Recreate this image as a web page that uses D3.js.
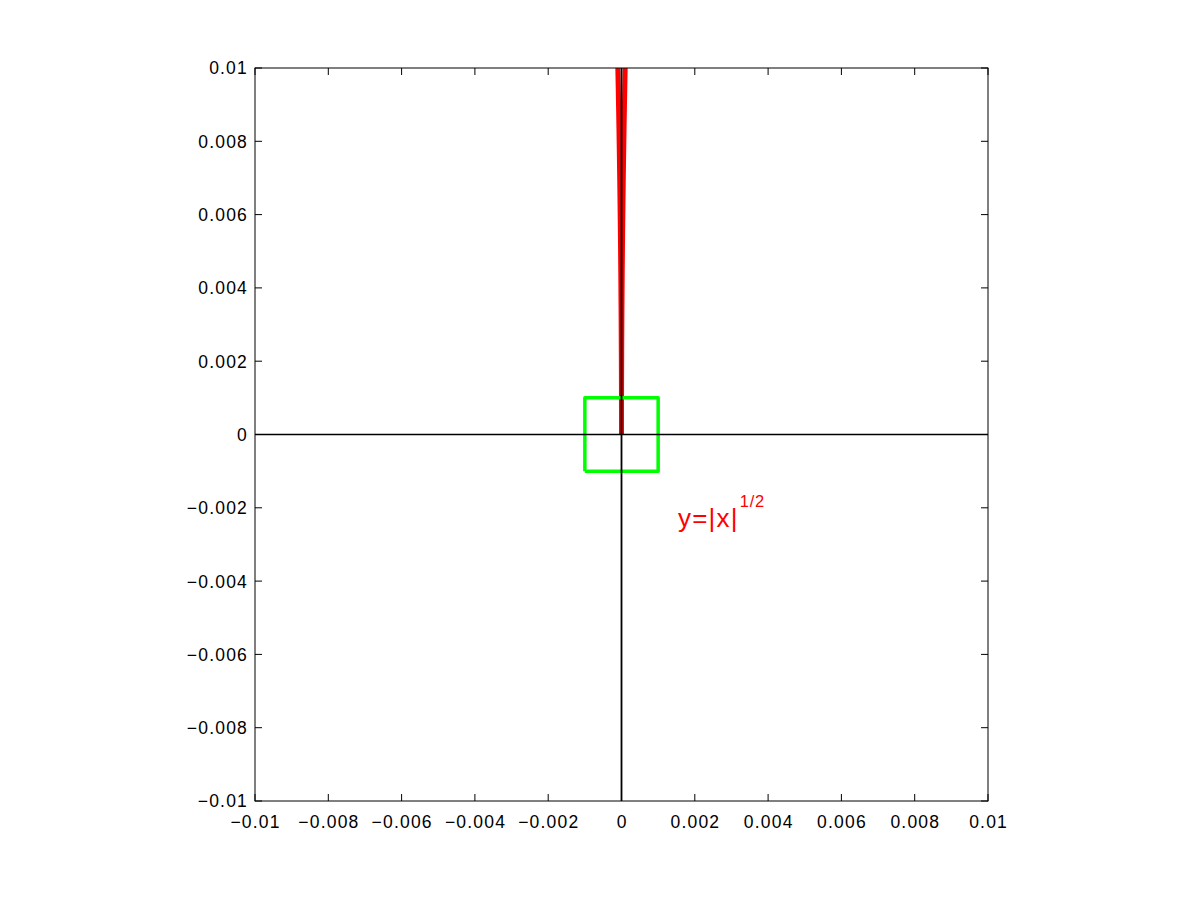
<!DOCTYPE html>
<html><head><meta charset="utf-8">
<script src="https://cdn.jsdelivr.net/npm/d3@7"></script>
<style>body{margin:0;background:#fff;} svg{display:block;}</style>
</head><body>
<svg id="c" width="1201" height="901"></svg>
<script>
const xTicks = [-0.01,-0.008,-0.006,-0.004,-0.002,0,0.002,0.004,0.006,0.008,0.01];
const yTicks = [-0.01,-0.008,-0.006,-0.004,-0.002,0,0.002,0.004,0.006,0.008,0.01];
const tickLabels = ["−0.01","−0.008","−0.006","−0.004","−0.002","0","0.002","0.004","0.006","0.008","0.01"];
// curve y = |x|^(1/2), sampled x values
const curveX = [-0.0002,-0.00015,-0.00012,-0.0001,-0.00009,-0.00008,-0.00007,-0.00006,-0.00005,-0.00004,-0.00003,-0.00002,-0.00001,-0.000005,-0.000002,-0.0000005,0,0.0000005,0.000002,0.000005,0.00001,0.00002,0.00003,0.00004,0.00005,0.00006,0.00007,0.00008,0.00009,0.0001,0.00012,0.00015,0.0002];
const boxCorners = [[-0.001,-0.001],[0.001,-0.001],[0.001,0.001],[-0.001,0.001],[-0.001,-0.001]];
const xAxisLine = [[-0.01,0],[0.01,0]];
const yAxisLine = [[0,-0.01],[0,0.01]];

const L=255,R=988,T=68,B=801;
const x = d3.scaleLinear().domain([-0.01,0.01]).range([L,R]);
const y = d3.scaleLinear().domain([-0.01,0.01]).range([B,T]);
const svg = d3.select("#c");
svg.append("defs").append("clipPath").attr("id","clip").append("rect")
  .attr("x",L).attr("y",T).attr("width",R-L).attr("height",B-T);
const font = "'Liberation Sans', Arial, Helvetica, sans-serif";
const line = d3.line().x(d=>x(d[0])).y(d=>y(d[1]));
const g = svg.append("g").attr("clip-path","url(#clip)");

g.append("path").datum(curveX.map(v=>[v,Math.sqrt(Math.abs(v))]))
  .attr("d",line).attr("fill","none").attr("stroke","#ff0000").attr("stroke-width",5);
g.append("path").datum(boxCorners).attr("d",line).attr("fill","none")
  .attr("stroke","#00ff00").attr("stroke-width",3.5).attr("stroke-linejoin","round");
g.append("path").datum(xAxisLine).attr("d",line).attr("fill","none").attr("stroke","#000").attr("stroke-width",1.6);
g.append("path").datum(yAxisLine).attr("d",line).attr("fill","none").attr("stroke","#000").attr("stroke-width",1.8);

// axes box and ticks
const ax = svg.append("g");
ax.append("rect").attr("x",L).attr("y",T).attr("width",R-L).attr("height",B-T)
  .attr("fill","none").attr("stroke","#000").attr("stroke-width",1);
const tl=7;
xTicks.forEach(v=>{
  ax.append("line").attr("x1",x(v)).attr("x2",x(v)).attr("y1",B).attr("y2",B-tl).attr("stroke","#000");
  ax.append("line").attr("x1",x(v)).attr("x2",x(v)).attr("y1",T).attr("y2",T+tl).attr("stroke","#000");
});
yTicks.forEach(v=>{
  ax.append("line").attr("y1",y(v)).attr("y2",y(v)).attr("x1",L).attr("x2",L+tl).attr("stroke","#000");
  ax.append("line").attr("y1",y(v)).attr("y2",y(v)).attr("x1",R).attr("x2",R-tl).attr("stroke","#000");
});
xTicks.forEach((v,i)=>{
  ax.append("text").attr("x",x(v)+0.6).attr("y",828).attr("text-anchor","middle")
    .attr("font-family",font).attr("font-size",17.5).attr("letter-spacing",1.2).text(tickLabels[i]);
});
yTicks.forEach((v,i)=>{
  ax.append("text").attr("x",248).attr("y",y(v)+6.4).attr("text-anchor","end")
    .attr("font-family",font).attr("font-size",17.5).attr("letter-spacing",1.2).text(tickLabels[i]);
});

// annotation
const t = svg.append("text").attr("x",678).attr("y",527).attr("fill","#ff0000")
  .attr("font-family",font).attr("font-size",26).attr("letter-spacing",1.2);
t.append("tspan").text("y=|x|");
t.append("tspan").attr("font-size",16.5).attr("letter-spacing",0.8).attr("dx",1).attr("dy",-20).text("1/2");
</script>
</body></html>
